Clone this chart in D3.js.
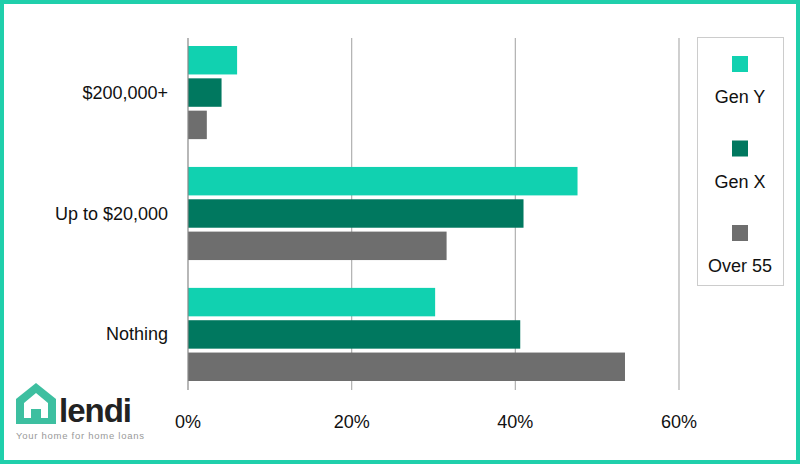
<!DOCTYPE html>
<html><head><meta charset="utf-8">
<script src="https://cdn.jsdelivr.net/npm/d3@7"></script>
<style>body{margin:0;background:#fff}svg{display:block;font-family:"Liberation Sans",Arial,sans-serif}</style>
</head><body><svg id="c" width="800" height="464"></svg>
<script>
const categories = ["$200,000+", "Up to $20,000", "Nothing"];
const seriesNames = ["Gen Y", "Gen X", "Over 55"];
const genY = [6.0, 47.6, 30.2];
const genX = [4.1, 41.0, 40.6];
const over55 = [2.3, 31.6, 53.4];
const tickValues = [0, 20, 40, 60];
const colors = ["#11d1b0", "#00785f", "#6e6e6e"];
const series = [genY, genX, over55];

const svg = d3.select("#c");
svg.append("rect").attr("x",2).attr("y",2).attr("width",796).attr("height",460).attr("fill","none").attr("stroke","#1fcfab").attr("stroke-width",4);

const x = d3.scaleLinear().domain([0,60]).range([188,679]);
const y = d3.scaleBand().domain(categories).range([46,381]).paddingInner(0.23).paddingOuter(0);
const yi = d3.scaleBand().domain(seriesNames).range([0,y.bandwidth()]).paddingInner(0.12);

svg.append("g").selectAll("line").data(tickValues.filter(d=>d>0)).join("line")
 .attr("x1",d=>x(d)).attr("x2",d=>x(d)).attr("y1",38).attr("y2",390).attr("stroke","#b0b0b0").attr("stroke-width",1.2);

categories.forEach((c,ci)=>{
  series.forEach((s,si)=>{
    svg.append("rect").attr("x",x(0)).attr("y",y(c)+yi(seriesNames[si])).attr("width",x(s[ci])-x(0))
      .attr("height",yi.bandwidth()).attr("fill",colors[si]);
  });
  svg.append("text").attr("x",168).attr("y",y(c)+y.bandwidth()/2+6).attr("text-anchor","end")
    .attr("font-size",18).attr("fill","#111").text(c);
});
svg.append("line").attr("x1",x(0)).attr("x2",x(0)).attr("y1",38).attr("y2",390).attr("stroke","#888").attr("stroke-width",1.2);

svg.append("g").selectAll("text").data(tickValues).join("text")
 .attr("x",d=>x(d)).attr("y",428).attr("text-anchor","middle").attr("font-size",18).attr("fill","#111").text(d=>d+"%");

svg.append("rect").attr("x",697.5).attr("y",37.5).attr("width",86).attr("height",248).attr("fill","#fff").attr("stroke","#ccc");
seriesNames.forEach((n,i)=>{
  const cy = 64 + i*84.5;
  svg.append("rect").attr("x",732).attr("y",cy-8).attr("width",16).attr("height",16).attr("fill",colors[i]);
  svg.append("text").attr("x",740).attr("y",cy+39).attr("text-anchor","middle").attr("font-size",18).attr("fill","#111").text(n);
});

const g = svg.append("g");
g.append("path").attr("d","M16,399 L36,383 L56,399 L56,424 L16,424 Z M24,403 L24,418 L31,418 L31,409 L41,409 L41,418 L48,418 L48,403 L36,393 Z")
 .attr("fill","#3dbfa0").attr("fill-rule","evenodd");
g.append("text").attr("x",59).attr("y",422).attr("font-size",33).attr("font-weight","bold").attr("fill","#222").attr("letter-spacing",-1).text("lendi");
g.append("text").attr("x",16).attr("y",439).attr("font-size",9.5).attr("fill","#999").attr("textLength",128).text("Your home for home loans");
</script></body></html>
